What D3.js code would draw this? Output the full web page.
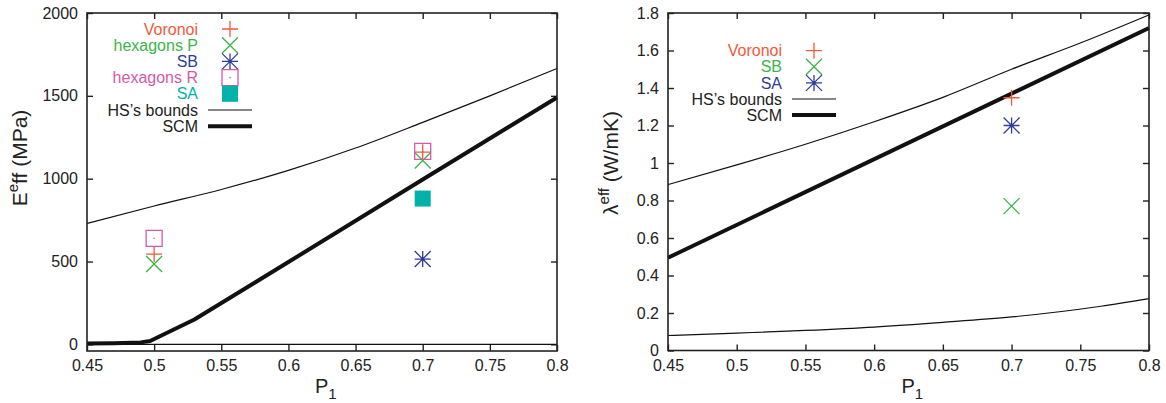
<!DOCTYPE html>
<html>
<head>
<meta charset="utf-8">
<script src="https://cdn.jsdelivr.net/npm/d3@7"></script>
<style>
  body { margin: 0; background: #fff; }
  svg { font-family: "Liberation Sans", Arial, sans-serif; }
</style>
</head>
<body>
<div class="chart"></div>
<script>
// ---- data ----
var pTicks = [0.45, 0.5, 0.55, 0.6, 0.65, 0.7, 0.75, 0.8];
var eTicks = [0, 500, 1000, 1500, 2000];
var lambdaTicks = [0, 0.2, 0.4, 0.6, 0.8, 1, 1.2, 1.4, 1.6, 1.8];

// left panel: effective Young modulus
var hsP = [0.45, 0.5, 0.55, 0.6, 0.65, 0.7, 0.75, 0.8];
var eHsUpper = [730, 835, 935, 1050, 1185, 1340, 1500, 1665];
var eHsLower = [0, 0, 0, 0, 0, 0, 0, 0];
var scmPE = [0.45, 0.47, 0.49, 0.497, 0.53, 0.6, 0.7, 0.8];
var eScm = [5, 7, 12, 20, 150, 497, 995, 1490];
var eVoronoi = [[0.5, 545], [0.7, 1160]];
var eHexP = [[0.5, 485], [0.7, 1110]];
var eSB = [[0.7, 515]];
var eHexR = [[0.5, 640], [0.7, 1165]];
var eSA = [[0.7, 880]];

// right panel: effective conductivity
var lHsUpper = [0.885, 0.99, 1.1, 1.22, 1.35, 1.5, 1.64, 1.79];
var lHsLowerP = [0.45, 0.5, 0.55, 0.6, 0.65, 0.7, 0.765, 0.8];
var lHsLower = [0.08, 0.093, 0.107, 0.125, 0.15, 0.179, 0.236, 0.277];
var scmPL = [0.45, 0.8];
var lScm = [0.495, 1.72];
var lVoronoi = [[0.7, 1.348]];
var lSB = [[0.7, 0.77]];
var lSA = [[0.7, 1.2]];

var colors = {
  voronoi: "#f15a3a",
  hexP: "#3bb54a",
  sb: "#2f3d99",
  hexR: "#d45aa8",
  sa: "#00b2a9"
};

var svg = d3.select(".chart").append("svg")
  .attr("width", 1166)
  .attr("height", 403);

var fmt = function(d) { return String(+d.toFixed(2)); };

// marker shapes in the gnuplot style, s = half size
function marker(g, type, cx, cy, color) {
  var s = 8;
  var m = g.append("g").attr("transform", `translate(${cx},${cy})`);
  var st = function(p) {
    return m.append("path").attr("d", p).attr("fill", "none")
      .attr("stroke", color).attr("stroke-width", 1.3);
  };
  if (type == "plus") st(`M${-s},0H${s}M0,${-s}V${s}`);
  if (type == "cross") st(`M${-s},${-s}L${s},${s}M${-s},${s}L${s},${-s}`);
  if (type == "star") {
    st(`M${-s},0H${s}M0,${-s}V${s}M${-s},${-s}L${s},${s}M${-s},${s}L${s},${-s}`);
    m.append("circle").attr("r", 1.3).attr("fill", color);
  }
  if (type == "box") {
    st(`M${-s},${-s}H${s}V${s}H${-s}Z`);
    m.append("circle").attr("r", 0.8).attr("fill", color);
  }
  if (type == "fbox") {
    m.append("rect").attr("x", -s).attr("y", -s).attr("width", 2 * s).attr("height", 2 * s)
      .attr("fill", color);
  }
}

function panel(opt) {
  var x = d3.scaleLinear().domain([0.45, 0.8]).range([opt.left, opt.right]);
  var y = d3.scaleLinear().domain(opt.yDomain).range([opt.bottom, opt.top]);
  var g = svg.append("g");

  // ticks on all four sides, pointing inward
  var axes = [
    [d3.axisBottom(x).tickValues(pTicks).tickFormat(fmt), `translate(0,${opt.bottom})`],
    [d3.axisTop(x).tickValues(pTicks).tickFormat(""), `translate(0,${opt.top})`],
    [d3.axisLeft(y).tickValues(opt.yTicks).tickFormat(fmt), `translate(${opt.left},0)`],
    [d3.axisRight(y).tickValues(opt.yTicks).tickFormat(""), `translate(${opt.right},0)`]
  ];
  axes.forEach(function(a) {
    var ax = g.append("g").attr("transform", a[1])
      .call(a[0].tickSizeInner(-6).tickSizeOuter(0).tickPadding(9));
    ax.select(".domain").remove();
    ax.selectAll("line").attr("stroke", "#222").attr("stroke-width", 1.4);
    ax.selectAll("text").attr("font-size", 16).attr("fill", "#222")
      .attr("font-family", "Liberation Sans, Arial, sans-serif");
  });

  var line = d3.line().x(d => x(d[0])).y(d => y(d[1]));
  opt.lines.forEach(function(l) {
    g.append("path")
      .datum(d3.zip(l.p, l.v))
      .attr("d", line.curve(l.w < 2 ? d3.curveMonotoneX : d3.curveLinear))
      .attr("fill", "none")
      .attr("stroke", "#111")
      .attr("stroke-width", l.w)
      .attr("stroke-linejoin", "round");
  });

  opt.points.forEach(function(s) {
    s.data.forEach(function(d) { marker(g, s.type, x(d[0]), y(d[1]), s.color); });
  });

  // frame
  g.append("rect")
    .attr("x", opt.left).attr("y", opt.top)
    .attr("width", opt.right - opt.left).attr("height", opt.bottom - opt.top)
    .attr("fill", "none").attr("stroke", "#222").attr("stroke-width", 1.6);

  // legend
  opt.legend.forEach(function(item, i) {
    var ly = opt.legY + i * opt.legStep;
    g.append("text")
      .attr("x", opt.legX).attr("y", ly).attr("dy", "0.35em")
      .attr("text-anchor", "end")
      .attr("font-size", 16)
      .attr("fill", item.textColor || item.color)
      .text(item.label);
    if (item.type) marker(g, item.type, opt.legX + 32, ly, item.color);
    else g.append("line")
      .attr("x1", opt.legX + 10).attr("x2", opt.legX + 54)
      .attr("y1", ly).attr("y2", ly)
      .attr("stroke", "#111").attr("stroke-width", item.w);
  });

  // x label P1
  var xl = g.append("text")
    .attr("x", (opt.left + opt.right) / 2 - 7).attr("y", 393)
    .attr("font-size", 20).attr("fill", "#222");
  xl.append("tspan").text("P");
  xl.append("tspan").attr("dy", 6).attr("font-size", 15).text("1");

  // y label
  var yl = g.append("text")
    .attr("transform", `translate(${opt.yLabX},${opt.yLabY}) rotate(-90)`)
    .attr("text-anchor", "middle")
    .attr("font-size", 21).attr("fill", "#222");
  yl.append("tspan").text(opt.yLab[0]);
  yl.append("tspan").attr("dy", -9).attr("font-size", 15).text(opt.yLab[1]);
  yl.append("tspan").attr("dy", 9).text(opt.yLab[2]);
}

panel({
  left: 87, right: 557, top: 13, bottom: 351,
  yDomain: [-40, 2000], yTicks: eTicks,
  yLab: ["E", "e", "ff (MPa)"], yLabX: 27, yLabY: 158,
  lines: [
    { p: hsP, v: eHsUpper, w: 1.2 },
    { p: hsP, v: eHsLower, w: 1.2 },
    { p: scmPE, v: eScm, w: 4 }
  ],
  points: [
    { data: eVoronoi, type: "plus", color: colors.voronoi },
    { data: eHexP, type: "cross", color: colors.hexP },
    { data: eSB, type: "star", color: colors.sb },
    { data: eHexR, type: "box", color: colors.hexR },
    { data: eSA, type: "fbox", color: colors.sa }
  ],
  legX: 198, legY: 29, legStep: 16.2,
  legend: [
    { label: "Voronoi", type: "plus", color: colors.voronoi },
    { label: "hexagons P", type: "cross", color: colors.hexP },
    { label: "SB", type: "star", color: colors.sb },
    { label: "hexagons R", type: "box", color: colors.hexR },
    { label: "SA", type: "fbox", color: colors.sa },
    { label: "HS\u2019s bounds", color: "#222", w: 1.2 },
    { label: "SCM", color: "#222", w: 4 }
  ]
});

panel({
  left: 668, right: 1149, top: 13, bottom: 350.5,
  yDomain: [0, 1.8], yTicks: lambdaTicks,
  yLab: ["\u03bb", "eff", " (W/mK)"], yLabX: 618, yLabY: 163,
  lines: [
    { p: hsP, v: lHsUpper, w: 1.2 },
    { p: lHsLowerP, v: lHsLower, w: 1.2 },
    { p: scmPL, v: lScm, w: 4 }
  ],
  points: [
    { data: lVoronoi, type: "plus", color: colors.voronoi },
    { data: lSB, type: "cross", color: colors.hexP },
    { data: lSA, type: "star", color: colors.sb }
  ],
  legX: 782, legY: 50.7, legStep: 16.1,
  legend: [
    { label: "Voronoi", type: "plus", color: colors.voronoi },
    { label: "SB", type: "cross", color: colors.hexP },
    { label: "SA", type: "star", color: colors.sb },
    { label: "HS\u2019s bounds", color: "#222", w: 1.2 },
    { label: "SCM", color: "#222", w: 4 }
  ]
});
</script>
</body>
</html>
